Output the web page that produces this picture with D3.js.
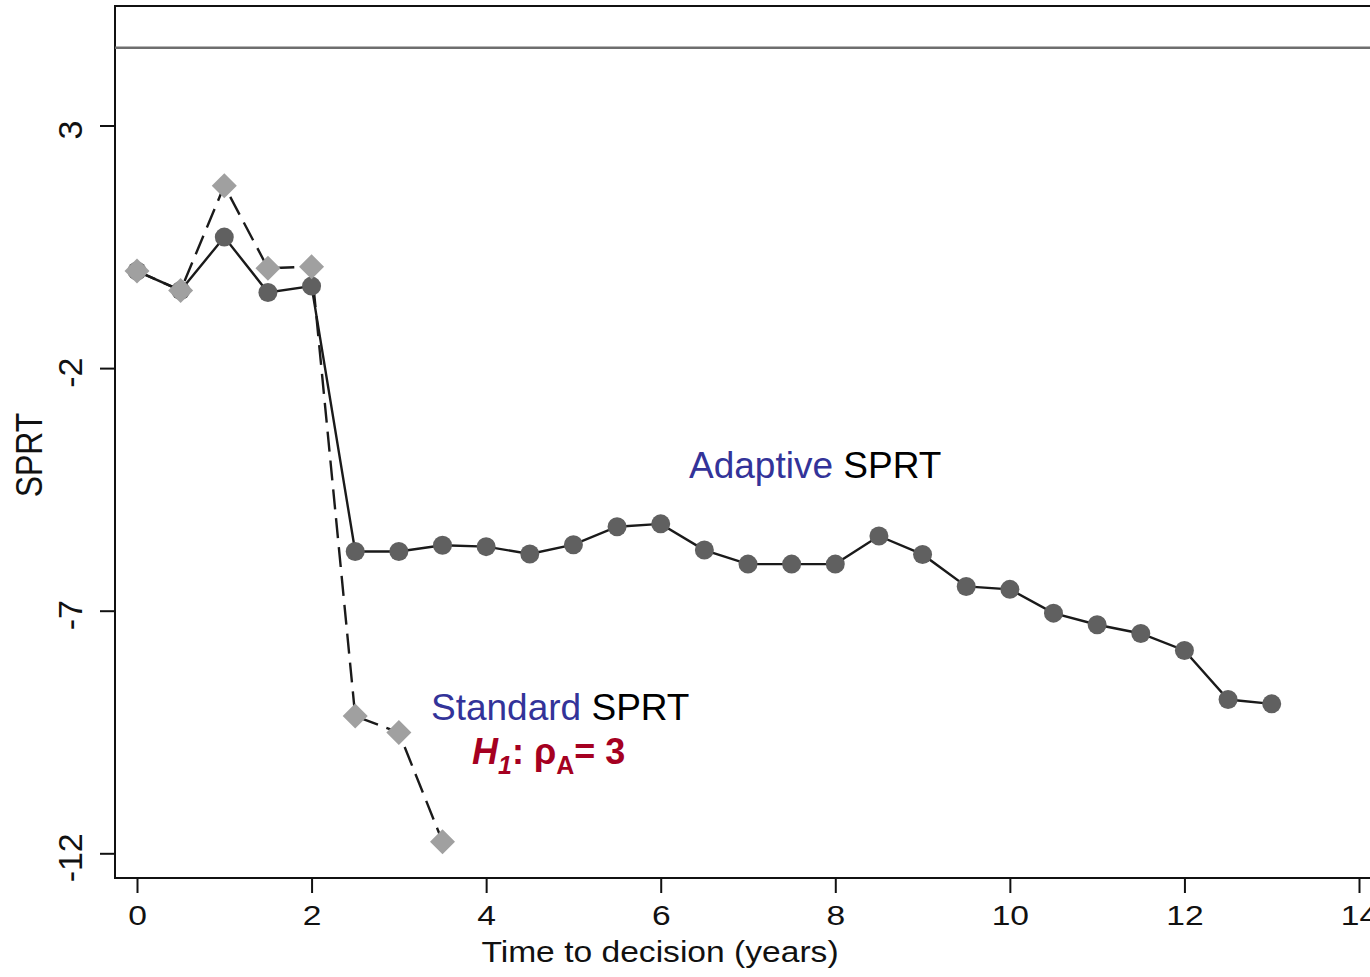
<!DOCTYPE html>
<html>
<head>
<meta charset="utf-8">
<script src="https://cdn.jsdelivr.net/npm/d3@7"></script>
<style>
  body { margin: 0; background: #fff; }
  svg { display: block; font-family: "Liberation Sans", Arial, sans-serif; }
</style>
</head>
<body>
<svg></svg>
<script>
// data
var adaptiveYears = [0, 0.5, 1, 1.5, 2, 2.5, 3, 3.5, 4, 4.5, 5, 5.5, 6, 6.5, 7, 7.5, 8, 8.5, 9, 9.5, 10, 10.5, 11, 11.5, 12, 12.5, 13];
var adaptiveSPRT = [0.0, -0.40, 0.70, -0.44, -0.31, -5.78, -5.78, -5.65, -5.68, -5.83, -5.64, -5.27, -5.21, -5.75, -6.04, -6.04, -6.04, -5.46, -5.84, -6.50, -6.56, -7.05, -7.29, -7.47, -7.82, -8.83, -8.92];
var standardYears = [0, 0.5, 1, 1.5, 2, 2.5, 3, 3.5];
var standardSPRT = [0.0, -0.40, 1.76, 0.06, 0.09, -9.17, -9.51, -11.76];
var upperBound = 4.6;
var xTicks = [0, 2, 4, 6, 8, 10, 12, 14];
var yTicks = [3, -2, -7, -12];

var W = 1370, H = 977;
// plot frame in pixels ("top" is taken by window.top, so prefixed names)
var frameL = 115, frameT = 6, frameB = 878, frameR = 1372;

var svg = d3.select("svg")
    .attr("width", W)
    .attr("height", H);

var x = d3.scaleLinear().domain([0, 14]).range([137, 1359]);
var y = d3.scaleLinear().domain([3, -12]).range([125.5, 853.3]);

var adaptive = adaptiveYears.map(function (d, i) { return {x: d, y: adaptiveSPRT[i]}; });
var standard = standardYears.map(function (d, i) { return {x: d, y: standardSPRT[i]}; });

// frame
svg.append("rect")
    .attr("x", frameL).attr("y", frameT)
    .attr("width", frameR - frameL).attr("height", frameB - frameT)
    .attr("fill", "none")
    .attr("stroke", "#111")
    .attr("stroke-width", 2);

// upper boundary
svg.append("line")
    .attr("x1", frameL).attr("x2", frameR)
    .attr("y1", y(upperBound)).attr("y2", y(upperBound))
    .attr("stroke", "#6e6e6e")
    .attr("stroke-width", 2.5);

// axes
var xAxis = svg.append("g")
    .attr("transform", "translate(0," + frameB + ")")
    .call(d3.axisBottom(x).tickValues(xTicks).tickSize(15).tickFormat(function (d) { return String(d); }));
xAxis.select(".domain").remove();
xAxis.selectAll("line").attr("stroke", "#111").attr("stroke-width", 2);
xAxis.selectAll("text")
    .attr("y", 47).attr("dy", 0)
    .attr("transform", "scale(1.2,1)")
    .attr("fill", "#111")
    .style("font-size", "28px")
    .style("font-family", "'Liberation Sans', Arial, sans-serif");

var yAxis = svg.append("g")
    .attr("transform", "translate(" + frameL + ",0)")
    .call(d3.axisLeft(y).tickValues(yTicks).tickSize(15).tickFormat(function (d) { return String(d); }));
yAxis.select(".domain").remove();
yAxis.selectAll("line").attr("stroke", "#111").attr("stroke-width", 2);
yAxis.selectAll("text")
    .attr("x", -4).attr("y", 0).attr("dy", 0)
    .attr("text-anchor", "middle")
    .attr("transform", "translate(-33,0) rotate(-90)")
    .attr("fill", "#111")
    .style("font-size", "34px")
    .style("font-family", "'Liberation Sans', Arial, sans-serif");

// axis titles
svg.append("text")
    .attr("transform", "translate(660,962) scale(1.12,1)")
    .attr("text-anchor", "middle")
    .attr("fill", "#111")
    .style("font-size", "30px")
    .text("Time to decision (years)");

svg.append("text")
    .attr("transform", "translate(42,455) rotate(-90) scale(1,1.15)")
    .attr("text-anchor", "middle")
    .attr("fill", "#111")
    .style("font-size", "32px")
    .text("SPRT");

// lines
var line = d3.line()
    .x(function (d) { return x(d.x); })
    .y(function (d) { return y(d.y); });

svg.append("path")
    .datum(adaptive)
    .attr("d", line)
    .attr("fill", "none")
    .attr("stroke", "#1a1a1a")
    .attr("stroke-width", 2.4);

svg.append("path")
    .datum(standard)
    .attr("d", line)
    .attr("fill", "none")
    .attr("stroke", "#1a1a1a")
    .attr("stroke-width", 2.4)
    .attr("stroke-dasharray", "20,9");

// markers
svg.append("g").selectAll("circle")
    .data(adaptive)
    .join("circle")
    .attr("cx", function (d) { return x(d.x); })
    .attr("cy", function (d) { return y(d.y); })
    .attr("r", 9.5)
    .attr("fill", "#606060");

var diamond = d3.symbol().type(d3.symbolSquare).size(313);
svg.append("g").selectAll("path")
    .data(standard)
    .join("path")
    .attr("d", diamond)
    .attr("transform", function (d) { return "translate(" + x(d.x) + "," + y(d.y) + ") rotate(45)"; })
    .attr("fill", "#a0a0a0");

// annotations
var t1 = svg.append("text")
    .attr("x", 689).attr("y", 478)
    .style("font-size", "37px");
t1.append("tspan").attr("fill", "#333399").text("Adaptive");
t1.append("tspan").attr("fill", "#000").text(" SPRT");

var t2 = svg.append("text")
    .attr("x", 431).attr("y", 720)
    .style("font-size", "37px");
t2.append("tspan").attr("fill", "#333399").text("Standard");
t2.append("tspan").attr("fill", "#000").text(" SPRT");

var t3 = svg.append("text")
    .attr("x", 472).attr("y", 764)
    .attr("fill", "#a50021")
    .style("font-size", "36px")
    .style("font-weight", "bold");
t3.append("tspan").style("font-style", "italic").text("H");
t3.append("tspan").style("font-style", "italic").style("font-size", "25px").attr("dy", 10).text("1");
t3.append("tspan").attr("dy", -10).text(": ρ");
t3.append("tspan").style("font-size", "25px").attr("dy", 10).text("A");
t3.append("tspan").attr("dy", -10).text("= 3");
</script>
</body>
</html>
